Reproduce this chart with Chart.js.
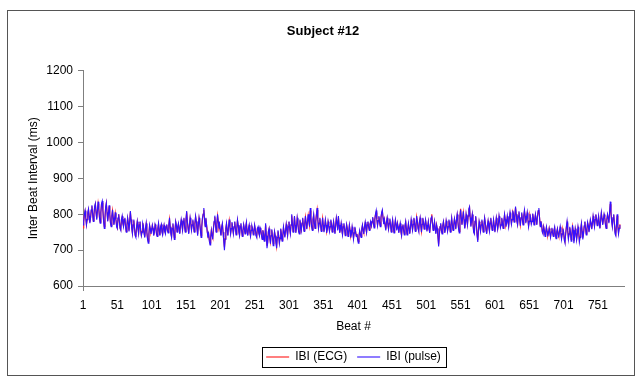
<!DOCTYPE html>
<html>
<head>
<meta charset="utf-8">
<title>Subject #12</title>
<script src="https://cdn.jsdelivr.net/npm/chart.js@4.4.0/dist/chart.umd.min.js"></script>
<style>
  html, body { margin: 0; padding: 0; background: #fff; }
  canvas { display: block; }
</style>
</head>
<body>
<canvas id="myChart" width="640" height="384"></canvas>
<script>
let chartTitle = 'Subject #12';
let xTitle = 'Beat #';
let yTitle = 'Inter Beat Interval (ms)';
let seriesNames = ['IBI (ECG)', 'IBI (pulse)'];
let beatCount = 789; // the axis runs a few beats past the last value
let labelEvery = 50;

// inter beat intervals in ms
let ibiEcg = [
    762, 778, 798, 808, 792, 772, 785, 802, 812, 795, 778, 790, 810, 822, 800, 782, 800, 820, 828, 805,
    788, 810, 830, 815, 792, 778, 805, 828, 832, 810, 782, 765, 790, 818, 830, 805, 782, 800, 822, 800,
    778, 768, 795, 810, 790, 772, 785, 802, 785, 768, 762, 788, 800, 780, 762, 758, 785, 792, 775, 768,
    785, 788, 765, 752, 770, 788, 775, 755, 780, 805, 785, 762, 748, 770, 782, 760, 742, 740, 765, 778,
    760, 748, 770, 778, 755, 742, 752, 775, 765, 748, 738, 760, 772, 750, 733, 725, 745, 768, 760, 748,
    755, 768, 760, 742, 752, 770, 765, 748, 740, 760, 772, 755, 742, 765, 770, 752, 745, 760, 768, 752,
    748, 765, 770, 755, 750, 770, 786, 765, 748, 738, 760, 772, 752, 735, 755, 778, 768, 752, 765, 772,
    760, 748, 770, 782, 770, 758, 780, 788, 765, 752, 785, 805, 780, 762, 748, 770, 788, 775, 758, 770,
    782, 765, 752, 775, 792, 780, 762, 745, 770, 788, 775, 758, 740, 765, 788, 800, 812, 785, 768, 788,
    770, 752, 740, 745, 730, 720, 738, 755, 742, 735, 760, 778, 792, 770, 752, 775, 796, 780, 762, 770,
    755, 742, 765, 772, 750, 730, 708, 732, 760, 772, 755, 742, 765, 782, 765, 748, 760, 775, 760, 748,
    765, 778, 760, 745, 760, 782, 770, 752, 742, 765, 772, 755, 740, 755, 770, 760, 748, 765, 775, 752,
    742, 760, 768, 750, 740, 755, 765, 760, 745, 750, 768, 758, 742, 738, 760, 762, 748, 742, 760, 755,
    742, 732, 755, 745, 728, 738, 770, 740, 712, 722, 750, 758, 735, 722, 740, 755, 738, 718, 732, 750,
    740, 724, 710, 735, 752, 740, 722, 735, 758, 745, 728, 740, 762, 750, 738, 755, 770, 755, 742, 765,
    778, 760, 748, 770, 796, 775, 752, 765, 792, 770, 750, 765, 788, 775, 755, 748, 782, 770, 758, 775,
    788, 768, 755, 775, 792, 775, 760, 780, 796, 780, 768, 810, 790, 768, 758, 785, 796, 775, 762, 780,
    798, 812, 785, 762, 775, 788, 770, 755, 768, 788, 770, 752, 765, 782, 770, 752, 760, 778, 768, 755,
    765, 782, 770, 752, 765, 778, 762, 748, 770, 788, 775, 758, 792, 770, 750, 760, 772, 755, 745, 765,
    772, 758, 742, 755, 770, 760, 740, 750, 768, 755, 738, 745, 762, 750, 735, 748, 762, 752, 740, 745,
    732, 724, 740, 752, 745, 738, 758, 768, 755, 748, 765, 775, 760, 750, 770, 778, 765, 758, 772, 778,
    768, 778, 790, 775, 765, 785, 798, 805, 785, 770, 782, 792, 778, 768, 790, 802, 808, 790, 775, 785,
    770, 758, 778, 788, 772, 760, 775, 785, 768, 752, 770, 782, 765, 750, 768, 782, 770, 758, 775, 765,
    750, 765, 772, 752, 742, 765, 770, 755, 745, 768, 778, 760, 745, 758, 772, 760, 748, 765, 782, 770,
    758, 772, 788, 775, 755, 765, 792, 780, 762, 755, 778, 788, 768, 752, 772, 788, 775, 760, 770, 782,
    770, 755, 765, 778, 760, 750, 770, 788, 800, 775, 758, 765, 778, 760, 748, 770, 760, 740, 716, 742,
    765, 772, 755, 748, 768, 778, 765, 750, 760, 780, 770, 755, 765, 782, 770, 752, 772, 788, 770, 758,
    770, 785, 775, 760, 785, 798, 780, 762, 752, 792, 815, 790, 772, 790, 805, 785, 762, 775, 798, 785,
    772, 795, 812, 818, 790, 768, 785, 798, 775, 752, 748, 780, 792, 770, 745, 728, 755, 778, 768, 755,
    770, 782, 768, 752, 770, 788, 775, 758, 748, 768, 780, 765, 755, 775, 788, 770, 758, 765, 782, 768,
    752, 770, 788, 775, 760, 772, 792, 780, 765, 770, 788, 775, 762, 780, 798, 785, 768, 775, 792, 780,
    768, 788, 802, 790, 775, 785, 806, 800, 780, 795, 818, 800, 782, 772, 795, 805, 785, 770, 790, 802,
    785, 772, 795, 808, 795, 778, 790, 802, 785, 768, 780, 798, 790, 775, 780, 800, 790, 772, 785, 798,
    785, 772, 795, 808, 812, 790, 768, 780, 770, 752, 748, 765, 755, 742, 750, 762, 752, 740, 748, 760,
    748, 738, 750, 760, 748, 740, 755, 762, 745, 735, 750, 758, 745, 738, 752, 762, 748, 735, 745, 758,
    750, 732, 725, 745, 762, 775, 755, 735, 745, 762, 750, 730, 740, 766, 755, 725, 738, 758, 748, 732,
    745, 762, 750, 728, 738, 758, 772, 752, 735, 745, 765, 778, 760, 745, 758, 775, 768, 752, 765, 782,
    775, 760, 775, 792, 780, 768, 785, 798, 785, 770, 780, 792, 775, 762, 785, 802, 788, 772, 785, 798,
    790, 772, 762, 785, 798, 790, 778, 802, 828, 805, 782, 768, 790, 798, 775, 750, 745, 770, 796, 768,
    750, 762, 772
];

let ibiPulse = [
    770, 780, 800, 810, 790, 770, 785, 805, 815, 795, 775, 790, 812, 825, 800, 780, 800, 822, 830, 805,
    785, 810, 835, 815, 790, 775, 805, 830, 837, 810, 780, 760, 790, 820, 832, 805, 780, 800, 825, 800,
    775, 765, 795, 812, 790, 770, 785, 805, 785, 765, 760, 790, 800, 780, 760, 755, 785, 795, 775, 765,
    785, 790, 765, 750, 770, 790, 775, 752, 780, 809, 785, 760, 745, 770, 785, 760, 740, 735, 765, 780,
    760, 745, 770, 780, 755, 740, 750, 775, 768, 745, 735, 760, 775, 750, 730, 719, 745, 770, 760, 745,
    755, 770, 760, 740, 750, 772, 765, 745, 738, 760, 775, 755, 740, 765, 772, 750, 742, 760, 770, 752,
    745, 765, 772, 755, 748, 770, 790, 765, 745, 735, 760, 775, 750, 730, 755, 780, 770, 750, 765, 775,
    760, 745, 770, 785, 770, 755, 780, 790, 765, 750, 785, 809, 780, 760, 745, 770, 790, 775, 755, 770,
    785, 765, 750, 775, 795, 780, 760, 740, 770, 790, 775, 755, 735, 765, 790, 800, 817, 785, 765, 790,
    770, 750, 735, 745, 725, 714, 735, 755, 740, 730, 760, 780, 796, 770, 750, 775, 800, 780, 760, 770,
    752, 740, 765, 775, 750, 725, 700, 730, 760, 775, 755, 740, 765, 785, 765, 745, 760, 778, 760, 745,
    765, 780, 760, 742, 760, 785, 770, 750, 740, 765, 775, 755, 738, 755, 772, 760, 745, 765, 778, 752,
    740, 760, 770, 750, 738, 755, 768, 760, 742, 750, 770, 758, 740, 735, 760, 765, 748, 740, 762, 755,
    740, 730, 755, 745, 725, 735, 775, 740, 705, 720, 752, 760, 735, 718, 740, 758, 738, 712, 730, 752,
    740, 720, 705, 735, 755, 740, 718, 732, 760, 745, 725, 740, 765, 750, 735, 755, 772, 755, 740, 765,
    780, 760, 745, 770, 800, 775, 750, 765, 795, 770, 748, 765, 790, 775, 752, 745, 785, 770, 755, 775,
    790, 768, 752, 775, 795, 775, 758, 780, 800, 780, 765, 817, 790, 765, 755, 785, 800, 775, 760, 780,
    800, 817, 785, 760, 775, 790, 770, 752, 768, 790, 770, 750, 765, 785, 770, 748, 760, 780, 768, 752,
    765, 785, 770, 750, 765, 780, 762, 745, 770, 790, 775, 755, 795, 770, 748, 760, 775, 755, 742, 765,
    775, 758, 740, 755, 772, 760, 738, 750, 770, 755, 735, 745, 765, 750, 730, 748, 765, 752, 738, 745,
    730, 719, 738, 755, 745, 735, 758, 770, 755, 745, 765, 778, 760, 748, 770, 780, 765, 755, 772, 780,
    768, 780, 792, 775, 762, 785, 800, 810, 785, 768, 782, 795, 778, 765, 790, 805, 812, 790, 772, 785,
    770, 755, 778, 790, 772, 758, 775, 788, 768, 750, 770, 785, 765, 748, 768, 785, 770, 755, 775, 765,
    748, 765, 775, 752, 740, 765, 772, 755, 742, 768, 780, 760, 742, 758, 775, 760, 745, 765, 785, 770,
    755, 772, 790, 775, 752, 765, 795, 780, 760, 752, 778, 790, 768, 750, 772, 790, 775, 758, 770, 785,
    770, 752, 765, 780, 760, 748, 770, 790, 796, 775, 755, 765, 780, 760, 745, 770, 760, 735, 710, 740,
    765, 775, 755, 745, 768, 780, 765, 748, 760, 782, 770, 752, 765, 785, 770, 750, 772, 790, 770, 755,
    770, 788, 775, 758, 785, 800, 780, 760, 748, 795, 812, 790, 770, 790, 808, 785, 760, 775, 800, 785,
    770, 795, 815, 821, 790, 765, 785, 800, 775, 750, 745, 780, 795, 770, 740, 723, 755, 780, 768, 752,
    770, 785, 768, 750, 770, 790, 775, 755, 745, 768, 782, 765, 752, 775, 790, 770, 755, 765, 785, 768,
    750, 770, 790, 775, 758, 772, 795, 780, 762, 770, 790, 775, 760, 780, 800, 785, 765, 775, 795, 780,
    765, 788, 805, 790, 772, 785, 810, 800, 778, 795, 821, 800, 780, 770, 795, 808, 785, 768, 790, 805,
    785, 770, 795, 812, 795, 775, 790, 805, 785, 765, 780, 800, 790, 772, 780, 802, 790, 770, 785, 800,
    785, 770, 795, 810, 817, 790, 765, 780, 770, 750, 745, 765, 755, 738, 750, 765, 752, 738, 748, 760,
    748, 735, 750, 762, 748, 738, 755, 765, 745, 732, 750, 760, 745, 735, 752, 765, 748, 730, 745, 760,
    750, 728, 720, 745, 765, 780, 755, 730, 745, 765, 750, 725, 740, 770, 755, 719, 735, 760, 748, 728,
    745, 765, 750, 722, 735, 760, 775, 752, 730, 745, 768, 780, 760, 742, 758, 778, 768, 750, 765, 785,
    775, 758, 775, 795, 780, 765, 785, 800, 785, 768, 780, 795, 775, 760, 785, 805, 788, 770, 785, 800,
    790, 770, 760, 785, 800, 790, 775, 805, 835, 805, 780, 765, 790, 800, 775, 745, 740, 770, 800, 765,
    745, 760, 770
];

let beats = [];
for (let i = 1; i <= beatCount; i++) {
    beats.push(i);
}

let fontFamily = '"Liberation Sans", Arial, sans-serif';
let axisGrey = '#7f7f7f';

// white page, outer frame and a box round the legend
const framePlugin = {
    id: 'frame',
    beforeDraw(chart) {
        let ctx = chart.ctx;
        ctx.save();
        ctx.fillStyle = '#fff';
        ctx.fillRect(0, 0, chart.width, chart.height);
        ctx.restore();
    },
    afterDraw(chart) {
        let ctx = chart.ctx;
        ctx.save();
        ctx.strokeStyle = '#555';
        ctx.lineWidth = 1;
        ctx.strokeRect(7.5, 10.5, 627, 365);
        let boxes = chart.legend.legendHitBoxes;
        if (boxes && boxes.length) {
            let first = boxes[0];
            let last = boxes[boxes.length - 1];
            let left = Math.round(first.left - 4);
            let right = Math.round(last.left + last.width + 5);
            let top = Math.round(first.top - 4);
            let bottom = Math.round(first.top + first.height + 4);
            ctx.strokeStyle = '#000';
            ctx.strokeRect(left + 0.5, top + 0.5, right - left, bottom - top);
        }
        ctx.restore();
    }
};

function generateChart(id) {
    let ctx = document.getElementById(id).getContext('2d');
    return new Chart(ctx, {
        type: 'line',
        data: {
            labels: beats,
            datasets: [{
                label: seriesNames[0],
                data: ibiEcg,
                borderColor: '#ff2a2a',
                backgroundColor: '#ff2a2a',
                borderWidth: 1.2,
                pointRadius: 0,
                tension: 0,
                order: 2
            }, {
                label: seriesNames[1],
                data: ibiPulse,
                borderColor: '#3311ff',
                backgroundColor: '#3311ff',
                borderWidth: 1.1,
                pointRadius: 0,
                tension: 0,
                order: 1
            }]
        },
        options: {
            responsive: false,
            animation: false,
            devicePixelRatio: 1,
            layout: {
                padding: {left: 22, right: 16, top: 0, bottom: 11}
            },
            plugins: {
                title: {
                    display: true,
                    text: chartTitle,
                    color: '#000',
                    font: {family: fontFamily, size: 13, weight: 'bold'},
                    padding: {top: 24, bottom: 31}
                },
                legend: {
                    position: 'bottom',
                    fullSize: false,
                    labels: {
                        color: '#000',
                        font: {family: fontFamily, size: 12},
                        usePointStyle: true,
                        pointStyle: 'line',
                        pointStyleWidth: 23,
                        padding: 10,
                        sort: (a, b) => a.datasetIndex - b.datasetIndex
                    }
                },
                tooltip: {enabled: false}
            },
            scales: {
                x: {
                    type: 'category',
                    ticks: {
                        autoSkip: false,
                        maxRotation: 0,
                        minRotation: 0,
                        padding: 7,
                        color: '#000',
                        font: {family: fontFamily, size: 12},
                        callback: function (value, index) {
                            return index % labelEvery === 0 ? beats[index] : null;
                        }
                    },
                    grid: {
                        drawOnChartArea: false,
                        tickLength: 5,
                        color: (c) => c.index % labelEvery === 0 ? axisGrey : 'rgba(0,0,0,0)'
                    },
                    border: {color: axisGrey, width: 1},
                    title: {
                        display: true,
                        text: xTitle,
                        color: '#000',
                        font: {family: fontFamily, size: 12},
                        padding: {top: 4, bottom: 7}
                    },
                    afterFit: (scale) => { scale.height = 55; }
                },
                y: {
                    min: 600,
                    max: 1200,
                    ticks: {
                        stepSize: 100,
                        padding: 5,
                        color: '#000',
                        font: {family: fontFamily, size: 12},
                        callback: (v) => v
                    },
                    grid: {
                        drawOnChartArea: false,
                        tickLength: 5,
                        color: axisGrey
                    },
                    border: {color: axisGrey, width: 1},
                    title: {
                        display: true,
                        text: yTitle,
                        color: '#000',
                        font: {family: fontFamily, size: 12}
                    },
                    afterFit: (scale) => { scale.width = 61; }
                }
            }
        },
        plugins: [framePlugin]
    });
}

generateChart('myChart');
</script>
</body>
</html>
